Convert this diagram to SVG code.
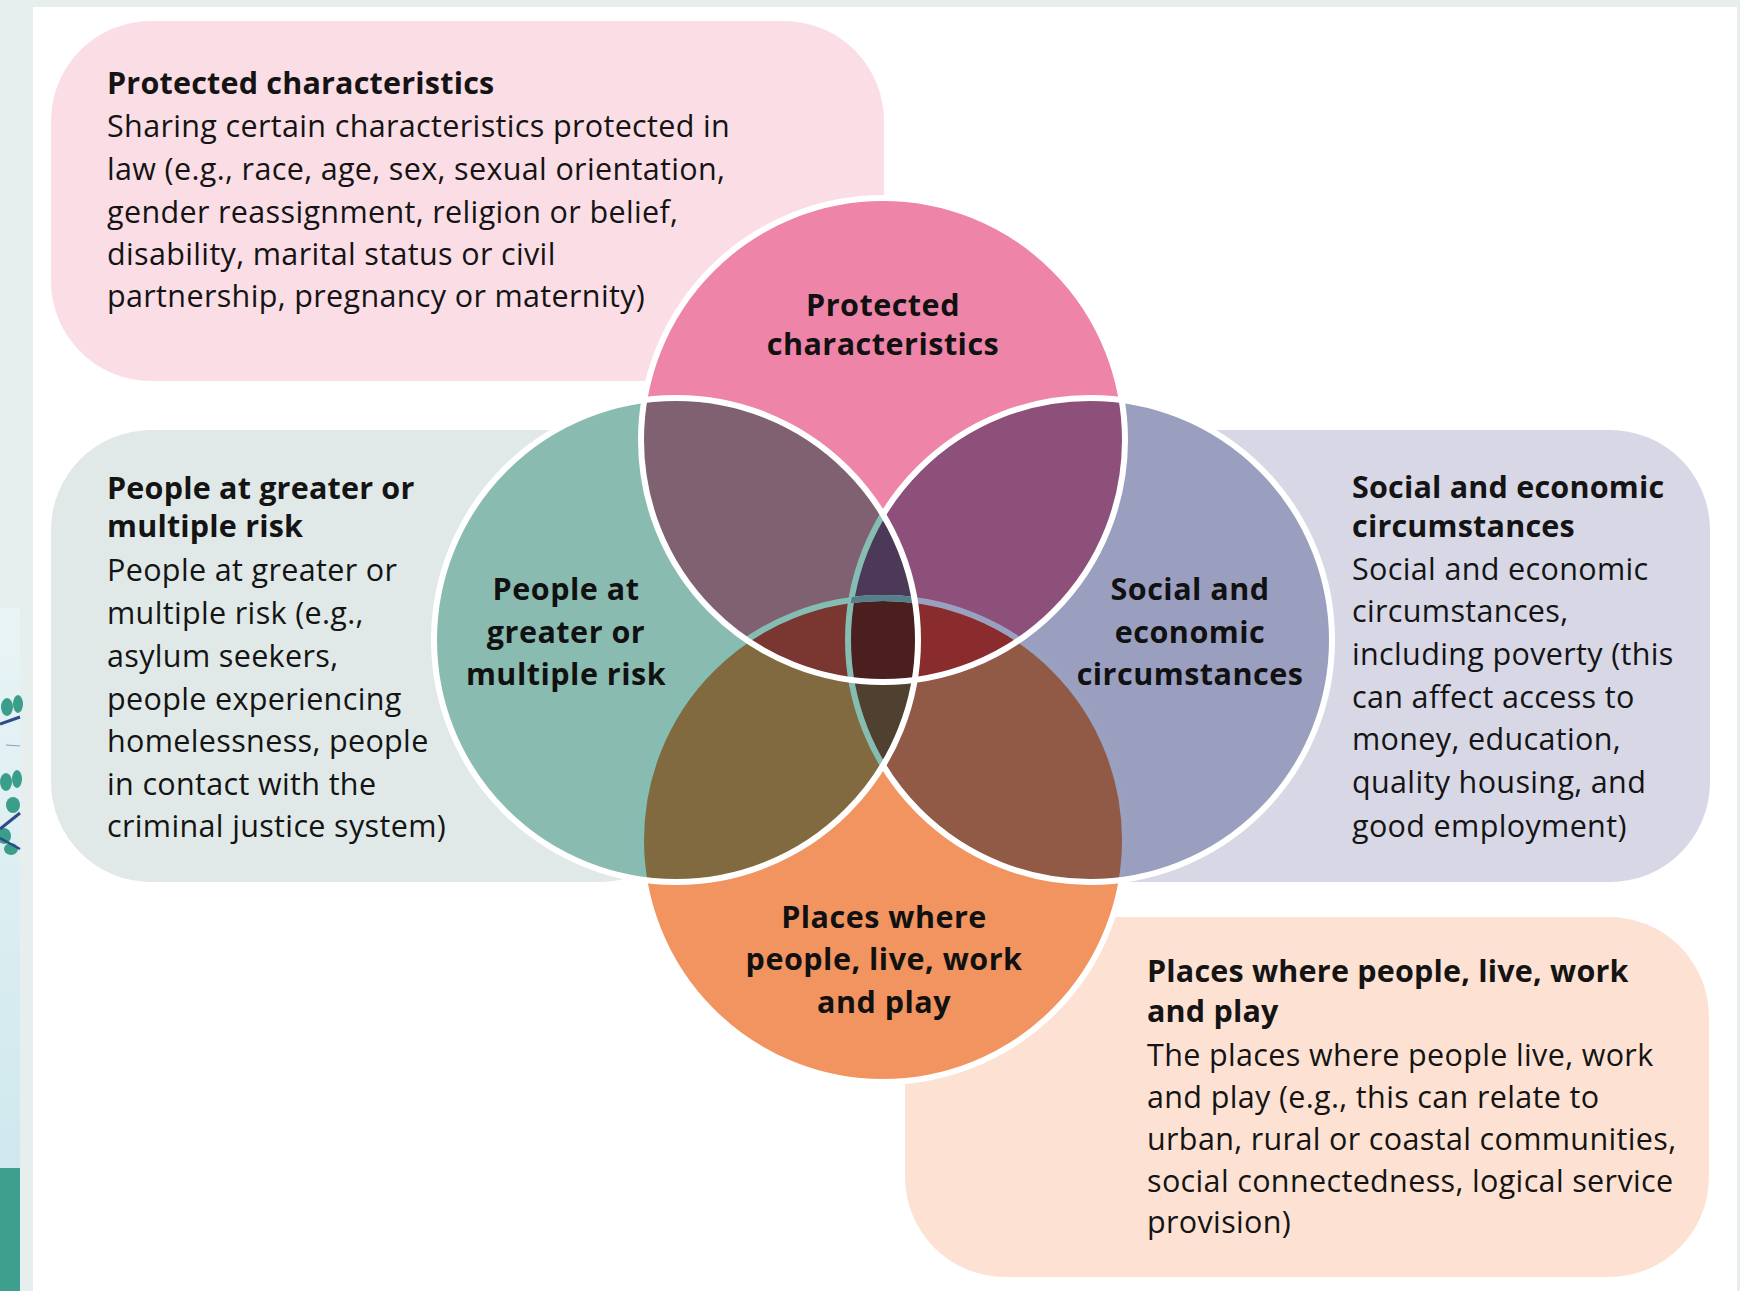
<svg xmlns="http://www.w3.org/2000/svg" width="1740" height="1291" viewBox="0 0 1740 1291">
<style>
  .t { font-family: "Open Sans", "Noto Sans", "Liberation Sans", sans-serif; font-size: 30.5px; letter-spacing: 0.35px; fill: #141414; }
  .b { font-weight: 700; letter-spacing: 0.2px; }
  .lbl { font-family: "Open Sans", "Noto Sans", "Liberation Sans", sans-serif; font-size: 30.5px; letter-spacing: 0.5px; font-weight: 700; fill: #111; text-anchor: middle; }
  .ws { fill: none; stroke: #ffffff; stroke-width: 6; }
  .cs { fill: none; stroke-width: 6; }
</style>
<defs>
  <linearGradient id="gBlue" x1="0" y1="0" x2="0" y2="1">
    <stop offset="0" stop-color="#e9f4f6"/>
    <stop offset="1" stop-color="#cfe8ed"/>
  </linearGradient>
  <clipPath id="cP"><circle cx="883" cy="440" r="242"/></clipPath>
  <clipPath id="cT"><circle cx="676" cy="640" r="242"/></clipPath>
  <clipPath id="cS"><circle cx="1090" cy="640" r="242"/></clipPath>
  <clipPath id="cO"><circle cx="883" cy="840" r="242"/></clipPath>
  <clipPath id="nT"><path clip-rule="evenodd" d="M0,0 H1740 V1291 H0 Z M434,640 a242,242 0 1,0 484,0 a242,242 0 1,0 -484,0 Z"/></clipPath>
  <clipPath id="nS"><path clip-rule="evenodd" d="M0,0 H1740 V1291 H0 Z M848,640 a242,242 0 1,0 484,0 a242,242 0 1,0 -484,0 Z"/></clipPath>
</defs>

<!-- background -->
<g id="background">
  <rect x="0" y="0" width="1740" height="1291" fill="#e6efee"/>
  <rect x="33" y="7" width="1704" height="1284" fill="#ffffff"/>
  <rect x="0" y="608" width="20" height="560" fill="url(#gBlue)"/>
  <rect x="0" y="1168" width="20" height="123" fill="#3d9f8e"/>
  <g fill="#3a9e8a">
    <ellipse cx="7" cy="707" rx="6" ry="9"/>
    <ellipse cx="18" cy="704" rx="5" ry="9"/>
    <ellipse cx="6" cy="782" rx="6" ry="9"/>
    <ellipse cx="17" cy="779" rx="5" ry="9"/>
    <ellipse cx="13" cy="805" rx="7" ry="8"/>
    <ellipse cx="4" cy="836" rx="7" ry="8"/>
    <ellipse cx="11" cy="849" rx="7" ry="6"/>
  </g>
  <g fill="none" stroke="#2f4a8a">
    <path d="M0,724 L20,717" stroke-width="3"/>
    <path d="M6,745 L20,746" stroke-width="1" stroke="#8aa0c0"/>
    <path d="M0,829 L20,813" stroke-width="3"/>
    <path d="M0,838 L20,849" stroke-width="2.5"/>
  </g>
</g>

<!-- description boxes -->
<g id="box-protected">
  <rect x="51" y="21" width="833" height="360" rx="100" ry="100" fill="#fbdde6"/>
  <text class="t b" x="107" y="94">Protected characteristics</text>
  <text class="t" x="107" y="137">Sharing certain characteristics protected in</text>
  <text class="t" x="107" y="180">law (e.g., race, age, sex, sexual orientation,</text>
  <text class="t" x="107" y="223">gender reassignment, religion or belief,</text>
  <text class="t" x="107" y="265">disability, marital status or civil</text>
  <text class="t" x="107" y="307">partnership, pregnancy or maternity)</text>
</g>
<g id="box-risk">
  <rect x="51" y="430" width="649" height="452" rx="100" ry="100" fill="#e0e9e7"/>
  <text class="t b" x="107" y="499">People at greater or</text>
  <text class="t b" x="107" y="537">multiple risk</text>
  <text class="t" x="107" y="581">People at greater or</text>
  <text class="t" x="107" y="624">multiple risk (e.g.,</text>
  <text class="t" x="107" y="667">asylum seekers,</text>
  <text class="t" x="107" y="710">people experiencing</text>
  <text class="t" x="107" y="752">homelessness, people</text>
  <text class="t" x="107" y="795">in contact with the</text>
  <text class="t" x="107" y="837">criminal justice system)</text>
</g>
<g id="box-social">
  <rect x="1000" y="430" width="710" height="452" rx="100" ry="100" fill="#d8d7e6"/>
  <text class="t b" x="1352" y="498">Social and economic</text>
  <text class="t b" x="1352" y="537">circumstances</text>
  <text class="t" x="1352" y="580">Social and economic</text>
  <text class="t" x="1352" y="622">circumstances,</text>
  <text class="t" x="1352" y="665">including poverty (this</text>
  <text class="t" x="1352" y="708">can affect access to</text>
  <text class="t" x="1352" y="750">money, education,</text>
  <text class="t" x="1352" y="793">quality housing, and</text>
  <text class="t" x="1352" y="837">good employment)</text>
</g>
<g id="box-places">
  <rect x="905" y="917" width="804" height="360" rx="100" ry="100" fill="#fde2d3"/>
  <text class="t b" x="1147" y="982">Places where people, live, work</text>
  <text class="t b" x="1147" y="1022">and play</text>
  <text class="t" x="1147" y="1066">The places where people live, work</text>
  <text class="t" x="1147" y="1108">and play (e.g., this can relate to</text>
  <text class="t" x="1147" y="1150">urban, rural or coastal communities,</text>
  <text class="t" x="1147" y="1192">social connectedness, logical service</text>
  <text class="t" x="1147" y="1233">provision)</text>
</g>

<!-- Venn circles -->
<g id="venn">
  <circle cx="883" cy="440" r="242" fill="#ef84a9"/>
  <circle cx="676" cy="640" r="242" fill="#8abbb1"/>
  <circle cx="1090" cy="640" r="242" fill="#9a9ebf"/>
  <circle cx="883" cy="840" r="242" fill="#f29460"/>
  <g clip-path="url(#cP)"><circle cx="676" cy="640" r="242" fill="#7f6172"/></g>
  <g clip-path="url(#cP)"><circle cx="1090" cy="640" r="242" fill="#8d507b"/></g>
  <g clip-path="url(#cT)"><circle cx="883" cy="840" r="242" fill="#816a40"/></g>
  <g clip-path="url(#cS)"><circle cx="883" cy="840" r="242" fill="#915a47"/></g>
  <g clip-path="url(#cP)"><g clip-path="url(#cT)"><circle cx="883" cy="840" r="242" fill="#7a3630"/></g></g>
  <g clip-path="url(#cP)"><g clip-path="url(#cS)"><circle cx="883" cy="840" r="242" fill="#8a2c2d"/></g></g>
  <g clip-path="url(#cP)"><g clip-path="url(#cT)"><circle cx="1090" cy="640" r="242" fill="#4b3957"/></g></g>
  <g clip-path="url(#cO)"><g clip-path="url(#cT)"><circle cx="1090" cy="640" r="242" fill="#4f4030"/></g></g>
  <g clip-path="url(#cP)"><g clip-path="url(#cT)"><g clip-path="url(#cS)"><circle cx="883" cy="840" r="242" fill="#4c1f1f"/></g></g></g>

  <g clip-path="url(#cT)"><circle class="cs" cx="1090" cy="640" r="242" stroke="#86bdb3"/></g>
  <g clip-path="url(#cT)"><circle class="cs" cx="883" cy="840" r="242" stroke="#86bdb3"/></g>
  <g clip-path="url(#cS)"><circle class="cs" cx="883" cy="840" r="242" stroke="#9aa0c0"/></g>
  <g clip-path="url(#cS)"><g clip-path="url(#cT)"><circle class="cs" cx="883" cy="840" r="242" stroke="#557f8b"/></g></g>

  <g clip-path="url(#nT)"><circle class="ws" cx="1090" cy="640" r="242"/></g>
  <g clip-path="url(#nT)"><g clip-path="url(#nS)"><circle class="ws" cx="883" cy="840" r="242"/></g></g>
  <circle class="ws" cx="676" cy="640" r="242"/>
  <circle class="ws" cx="883" cy="440" r="242"/>
</g>

<g id="label-protected">
  <text class="lbl" x="883" y="316">Protected</text>
  <text class="lbl" x="883" y="355">characteristics</text>
</g>
<g id="label-risk">
  <text class="lbl" x="566" y="600">People at</text>
  <text class="lbl" x="566" y="643">greater or</text>
  <text class="lbl" x="566" y="685">multiple risk</text>
</g>
<g id="label-social">
  <text class="lbl" x="1190" y="600">Social and</text>
  <text class="lbl" x="1190" y="643">economic</text>
  <text class="lbl" x="1190" y="685">circumstances</text>
</g>
<g id="label-places">
  <text class="lbl" x="884" y="928">Places where</text>
  <text class="lbl" x="884" y="970">people, live, work</text>
  <text class="lbl" x="884" y="1013">and play</text>
</g>
<g id="connectors"></g>
</svg>
